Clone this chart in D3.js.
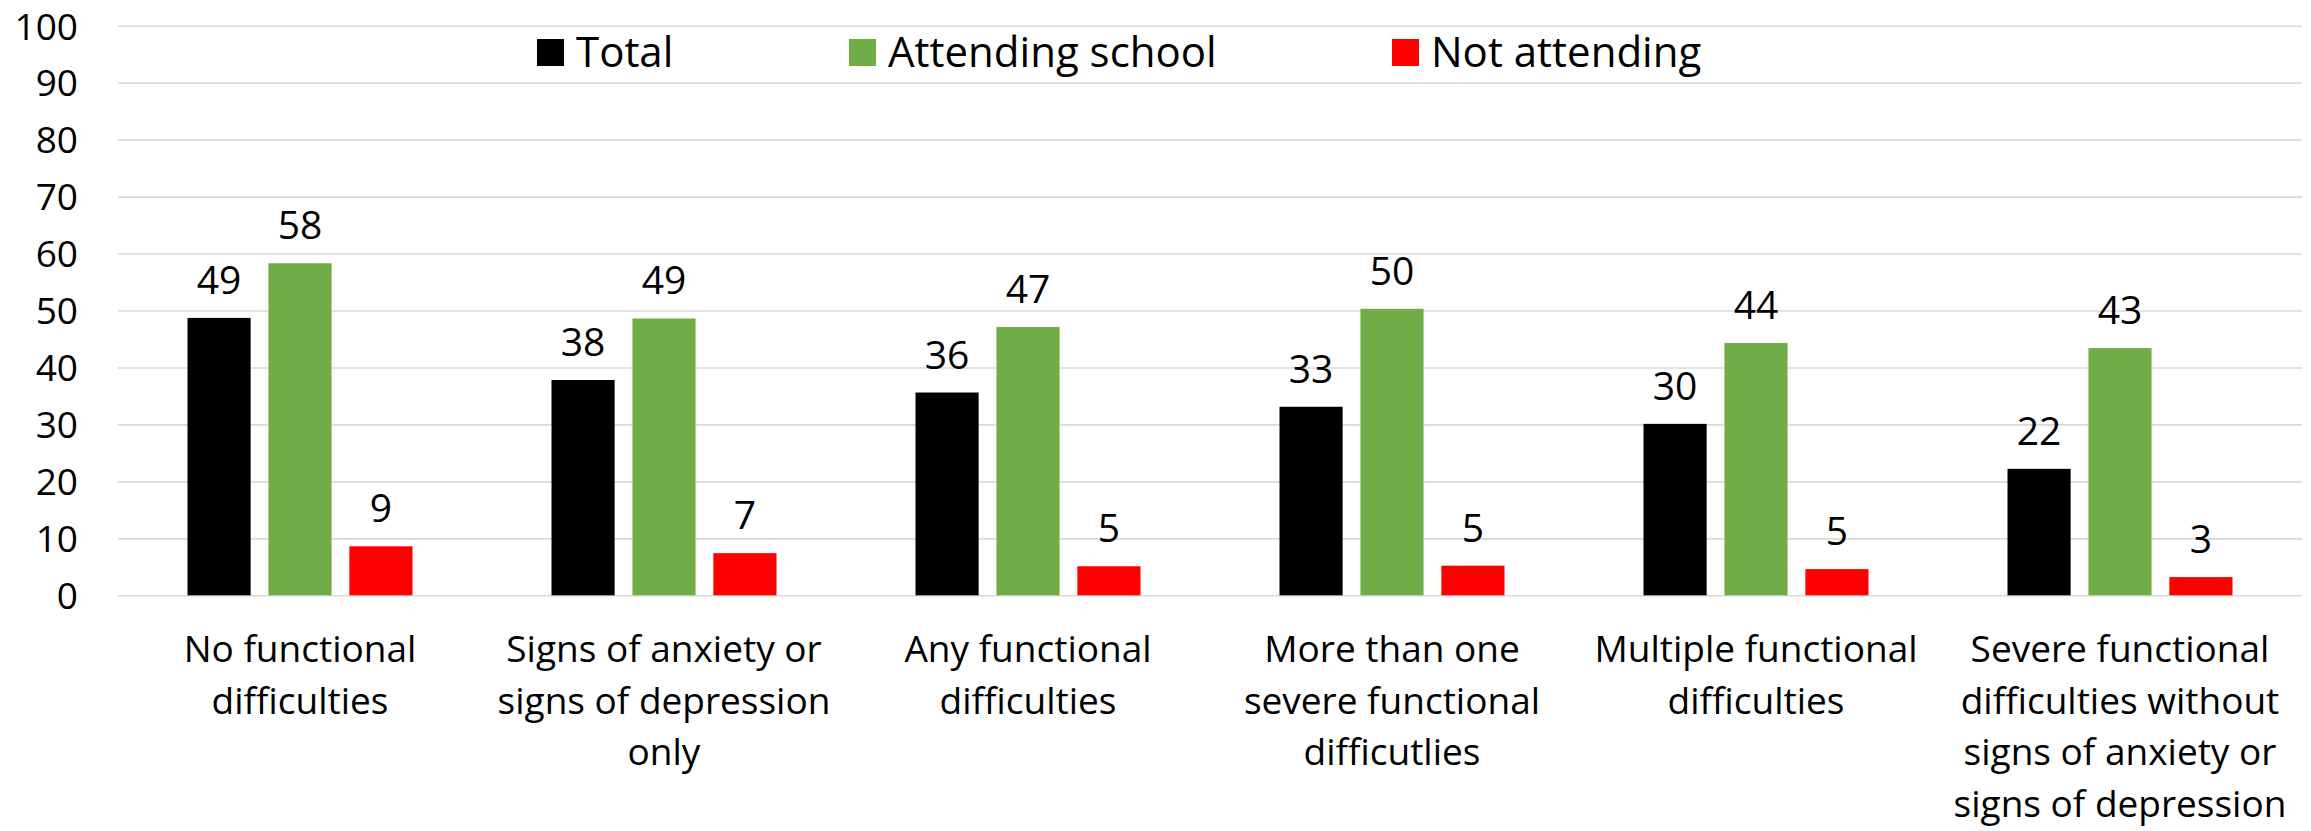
<!DOCTYPE html>
<html>
<head>
<meta charset="utf-8">
<script src="https://cdn.jsdelivr.net/npm/d3@7"></script>
<style>
  html, body { margin: 0; padding: 0; background: #fff; }
  svg { display: block; font-family: "Open Sans", sans-serif; }
</style>
</head>
<body>
<div id="chart"></div>
<script>
// categories, one array of wrapped lines each
const categories = [
  ["No functional", "difficulties"],
  ["Signs of anxiety or", "signs of depression", "only"],
  ["Any functional", "difficulties"],
  ["More than one", "severe functional", "difficutlies"],
  ["Multiple functional", "difficulties"],
  ["Severe functional", "difficulties without", "signs of anxiety or", "signs of depression"],
];
const seriesNames = ["Total", "Attending school", "Not attending"];
const seriesColors = ["#000000", "#70ad47", "#ff0000"];
const totalValues = [48.7, 37.8, 35.6, 33.1, 30.1, 22.2];
const attendingValues = [58.3, 48.6, 47.1, 50.3, 44.3, 43.4];
const notAttendingValues = [8.6, 7.4, 5.1, 5.2, 4.6, 3.2];
const yTicks = [0, 10, 20, 30, 40, 50, 60, 70, 80, 90, 100];

const width = 2311;
const height = 831;
const margin = { top: 25.7, right: 9, bottom: 235.7, left: 118 };
const legendX = [537, 849, 1392];

const seriesValues = [totalValues, attendingValues, notAttendingValues];
const rows = categories.map((lines, i) => ({
  key: lines.join(" "),
  lines,
  values: seriesNames.map((name, s) => ({ name, value: seriesValues[s][i], color: seriesColors[s] })),
}));

const svg = d3.select("#chart").append("svg").attr("width", width).attr("height", height);

const x0 = d3.scaleBand().domain(rows.map((d) => d.key)).range([margin.left, width - margin.right]);
const groupWidth = 225;
const x1 = d3.scaleBand().domain(seriesNames).range([-groupWidth / 2, groupWidth / 2]).paddingInner(0.22);
const y = d3.scaleLinear().domain([0, 100]).range([height - margin.bottom, margin.top]);

// grid
svg
  .append("g")
  .attr("transform", `translate(${margin.left},0)`)
  .call(d3.axisLeft(y).tickValues(yTicks).tickSize(-(width - margin.left - margin.right)).tickFormat(""))
  .call((g) => g.select(".domain").remove())
  .call((g) => g.selectAll("line").attr("stroke", "#d9d9d9").attr("stroke-width", 1.6));

// y tick labels
svg
  .append("g")
  .attr("transform", "translate(78,0)")
  .call(d3.axisLeft(y).tickValues(yTicks).tickSize(0).tickPadding(0))
  .call((g) => g.select(".domain").remove())
  .call((g) =>
    g.selectAll("text").attr("font-family", "Open Sans").attr("font-size", 37).attr("fill", "#000").attr("dy", "0.36em")
  );

// bars
const groups = svg
  .append("g")
  .selectAll("g")
  .data(rows)
  .join("g")
  .attr("transform", (d) => `translate(${x0(d.key) + x0.bandwidth() / 2},0)`);

groups
  .selectAll("rect")
  .data((d) => d.values)
  .join("rect")
  .attr("x", (d) => x1(d.name))
  .attr("width", x1.bandwidth())
  .attr("y", (d) => y(d.value))
  .attr("height", (d) => y(0) - y(d.value))
  .attr("fill", (d) => d.color);

groups
  .selectAll("text.value")
  .data((d) => d.values)
  .join("text")
  .attr("class", "value")
  .attr("x", (d) => x1(d.name) + x1.bandwidth() / 2)
  .attr("y", (d) => y(d.value) - 24)
  .attr("text-anchor", "middle")
  .attr("font-size", 39)
  .attr("fill", "#000")
  .text((d) => d3.format(".0f")(d.value));

// category labels
const catLabels = svg
  .append("g")
  .selectAll("text")
  .data(rows)
  .join("text")
  .attr("x", (d) => x0(d.key) + x0.bandwidth() / 2)
  .attr("y", 662)
  .attr("text-anchor", "middle")
  .attr("font-size", 37)
  .attr("fill", "#000");

catLabels
  .selectAll("tspan")
  .data((d) => d.lines.map((line) => ({ line, cx: x0(d.key) + x0.bandwidth() / 2 })))
  .join("tspan")
  .attr("x", (d) => d.cx)
  .attr("dy", (d, i) => (i === 0 ? 0 : 51.7))
  .text((d) => d.line);

// legend
const legend = svg
  .append("g")
  .selectAll("g")
  .data(seriesNames)
  .join("g")
  .attr("transform", (d, i) => `translate(${legendX[i]},0)`);

legend
  .append("rect")
  .attr("x", 0)
  .attr("y", 39)
  .attr("width", 27)
  .attr("height", 27)
  .attr("fill", (d, i) => seriesColors[i]);

legend
  .append("text")
  .attr("x", 39)
  .attr("y", 66.5)
  .attr("font-size", 42)
  .attr("fill", "#000")
  .text((d) => d);
</script>
</body>
</html>
